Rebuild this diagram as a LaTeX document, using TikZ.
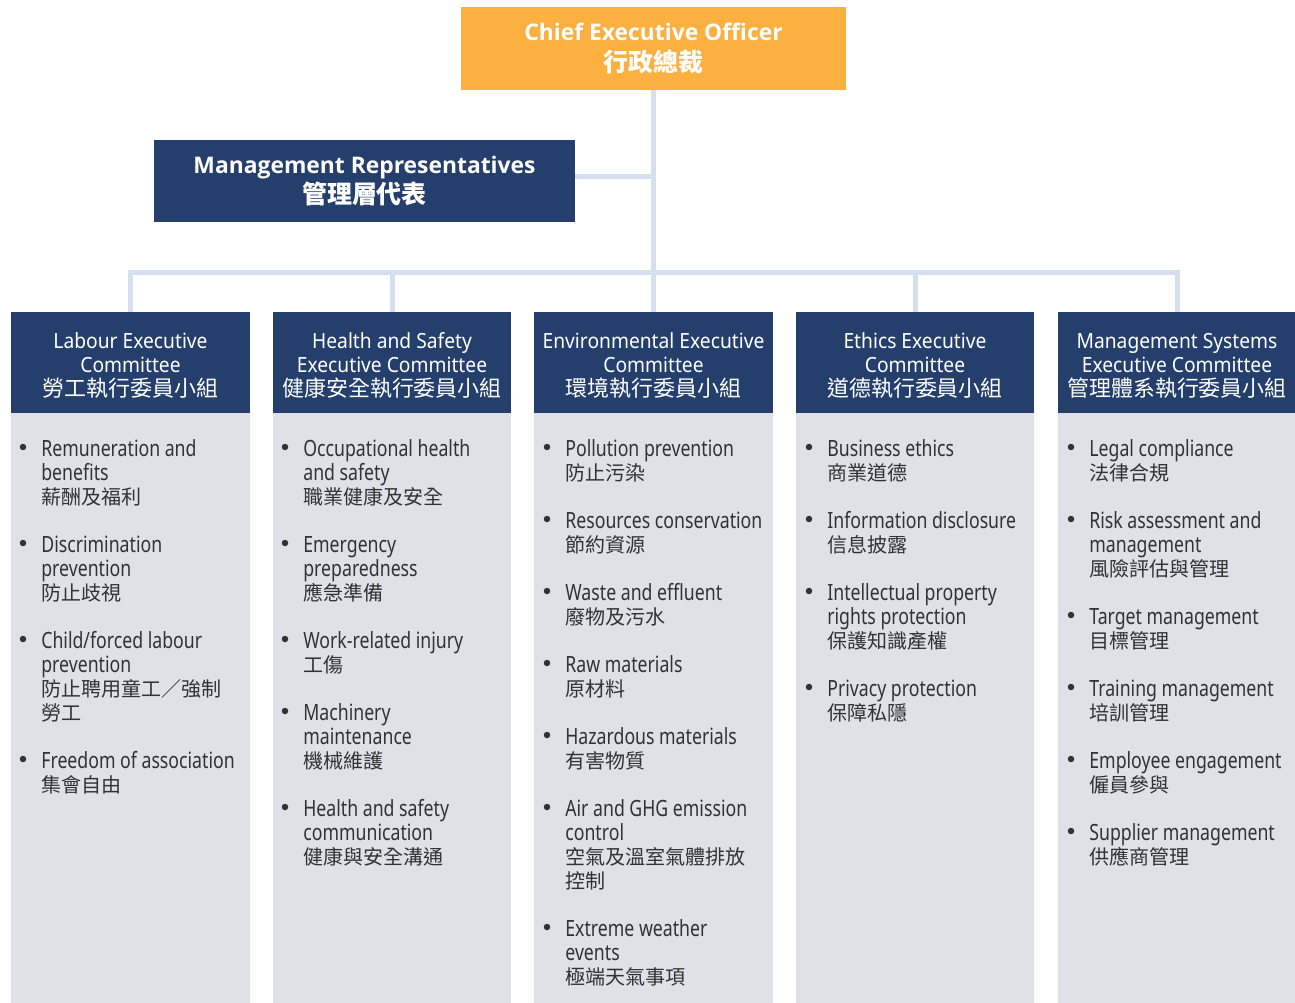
\documentclass[tikz,border=0pt]{standalone}
\usepackage{fontspec}
\setmainfont{Noto Sans}
\newfontfamily\topfont{Open Sans}
\newfontfamily\cjkfont{Noto Sans CJK TC}
\newfontfamily\headfont[FakeStretch=0.92]{Noto Sans}
\newfontfamily\itemfont[FakeStretch=0.79]{Noto Sans}
\usepackage{tikz}
\usetikzlibrary{positioning, calc}
\usepackage{xcolor}
\definecolor{ceoorange}{RGB}{251,176,64}
\definecolor{navy}{RGB}{36,63,107}
\definecolor{linkblue}{RGB}{214,223,240}
\definecolor{panelgray}{RGB}{223,224,232}
\definecolor{itemgray}{RGB}{50,50,50}
\newcommand\zh[1]{{\cjkfont\fontsize{11.4pt}{13.66pt}\selectfont #1}}
\newcommand\zhh[1]{{\cjkfont\fontsize{12.5pt}{13.66pt}\selectfont #1}}
\newcommand\zht[1]{{\cjkfont\bfseries\fontsize{14.2pt}{17.6pt}\selectfont #1}}
\newcommand\firstline{\rule{0pt}{9.56pt}}

\begin{document}
\begin{tikzpicture}[x=0.02cm, y=-0.02cm,
    topbox/.style={fill=#1, text=white, align=center, inner sep=0pt,
      font=\topfont\bfseries\fontsize{13pt}{17.6pt}\selectfont},
    headbox/.style={fill=navy, inner sep=0pt, anchor=north,
      minimum width=4.77cm, minimum height=2.02cm},
    headtext/.style={text=white, align=center, inner sep=0pt,
      font=\headfont\fontsize{11.9pt}{13.66pt}\selectfont},
    panel/.style={fill=panelgray, inner sep=0pt, minimum width=4.77cm,
      minimum height=11.8cm},
    link/.style={draw=linkblue, line width=0.1cm},
    bul/.style={circle, fill=itemgray, inner sep=0pt, minimum size=0.13cm},
    itm/.style={anchor=north west, align=left, inner sep=0pt, text=itemgray,
      font=\itemfont\fontsize{12.75pt}{13.66pt}\selectfont}]
  \useasboundingbox (0,0) rectangle (1295,1003);

  % top of the chart
  \node[topbox=ceoorange, minimum width=7.7cm, minimum height=1.66cm]
    (ceo) at (653.5,48.5) {Chief Executive Officer\\\zht{行政總裁}};
  \node[topbox=navy, minimum width=8.42cm, minimum height=1.64cm]
    (mr) at (364.5,181) {Management Representatives\\\zht{管理層代表}};

  % committee headers and panels
  \foreach \i/\cx/\txt in {
      1/130.5/{Labour Executive\\Committee\\\zhh{勞工執行委員小組}},
      2/392/{Health and Safety\\Executive Committee\\\zhh{健康安全執行委員小組}},
      3/653.5/{Environmental Executive\\Committee\\\zhh{環境執行委員小組}},
      4/915/{Ethics Executive\\Committee\\\zhh{道德執行委員小組}},
      5/1177/{Management Systems\\Executive Committee\\\zhh{管理體系執行委員小組}}} {
    \node[panel, anchor=north] (bd\i) at (\cx,413) {};
    \node[headbox] (hd\i) at (\cx,312) {};
    \node[headtext] (ht\i) at (\cx,365.5) {\txt};
  }

  \coordinate (bus) at (653.5,273);
  \draw[link] (ceo.south) -- (bus);
  \draw[link] ($(mr.east)+(0,-4)$) -- ($(mr.east -| ceo.south)+(0,-4)$);
  \foreach \i in {1,...,5}
    \draw[link] (hd\i.north) |- (bus);

  % labour
  \foreach \y/\txt [count=\k] in {
      448/{Remuneration and\\benefits\\\zh{薪酬及福利}},
      544/{Discrimination\\prevention\\\zh{防止歧視}},
      640/{Child/forced labour\\prevention\\\zh{防止聘用童工／強制}\\\zh{勞工}},
      760/{Freedom of association\\\zh{集會自由}}} {
    \node[bul] (b1-\k) at (23,\y-1) {};
    \node[itm] (t1-\k) at (41,\y-9) {\firstline\txt};
  }
  % health and safety
  \foreach \y/\txt [count=\k] in {
      448/{Occupational health\\and safety\\\zh{職業健康及安全}},
      544/{Emergency\\preparedness\\\zh{應急準備}},
      640/{Work-related injury\\\zh{工傷}},
      712/{Machinery\\maintenance\\\zh{機械維護}},
      808/{Health and safety\\communication\\\zh{健康與安全溝通}}} {
    \node[bul] (b2-\k) at (285,\y-1) {};
    \node[itm] (t2-\k) at (303,\y-9) {\firstline\txt};
  }
  % environmental
  \foreach \y/\txt [count=\k] in {
      448/{Pollution prevention\\\zh{防止污染}},
      520/{Resources conservation\\\zh{節約資源}},
      592/{Waste and effluent\\\zh{廢物及污水}},
      664/{Raw materials\\\zh{原材料}},
      736/{Hazardous materials\\\zh{有害物質}},
      808/{Air and GHG emission\\control\\\zh{空氣及溫室氣體排放}\\\zh{控制}},
      928/{Extreme weather\\events\\\zh{極端天氣事項}}} {
    \node[bul] (b3-\k) at (547,\y-1) {};
    \node[itm] (t3-\k) at (565,\y-9) {\firstline\txt};
  }
  % ethics
  \foreach \y/\txt [count=\k] in {
      448/{Business ethics\\\zh{商業道德}},
      520/{Information disclosure\\\zh{信息披露}},
      592/{Intellectual property\\rights protection\\\zh{保護知識產權}},
      688/{Privacy protection\\\zh{保障私隱}}} {
    \node[bul] (b4-\k) at (809,\y-1) {};
    \node[itm] (t4-\k) at (827,\y-9) {\firstline\txt};
  }
  % management systems
  \foreach \y/\txt [count=\k] in {
      448/{Legal compliance\\\zh{法律合規}},
      520/{Risk assessment and\\management\\\zh{風險評估與管理}},
      616/{Target management\\\zh{目標管理}},
      688/{Training management\\\zh{培訓管理}},
      760/{Employee engagement\\\zh{僱員參與}},
      832/{Supplier management\\\zh{供應商管理}}} {
    \node[bul] (b5-\k) at (1071,\y-1) {};
    \node[itm] (t5-\k) at (1089,\y-9) {\firstline\txt};
  }
\end{tikzpicture}
\end{document}
